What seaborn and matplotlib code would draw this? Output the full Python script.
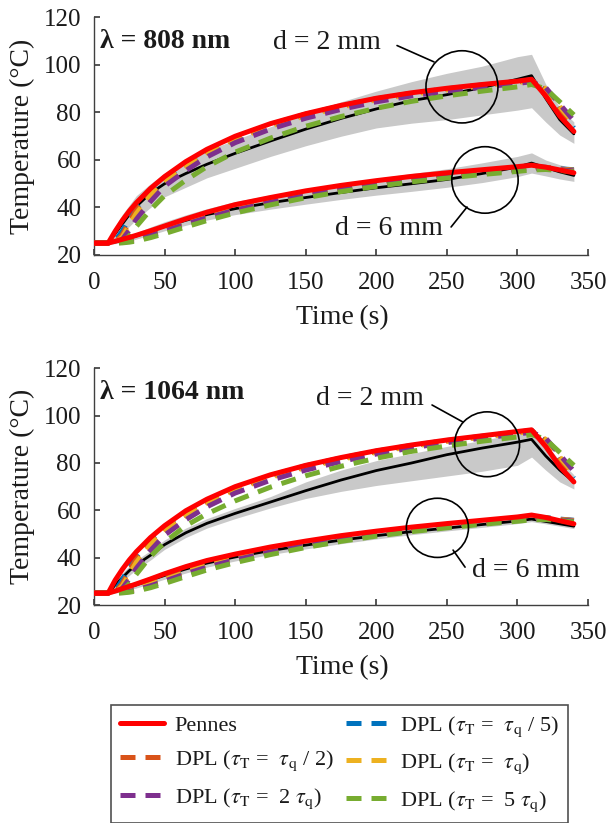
import matplotlib
matplotlib.use("Agg")
import matplotlib.pyplot as plt
from matplotlib.patches import Ellipse
from matplotlib.lines import Line2D
import seaborn as sns

# ---------------------------------------------------------------- data
time_s = [0, 10, 15, 20, 25, 30, 40, 50, 65, 80, 100, 125, 150, 175, 200,
          225, 250, 275, 300, 310, 320, 330, 340]

# lambda = 808 nm, d = 2 mm
w808_d2_pennes = [25, 25, 30, 34.5, 38.5, 42, 48, 53, 59.3, 64.5, 70, 75.3, 79.5, 83, 86,
                  88.3, 90.2, 91.8, 93.2, 94, 87, 78.5, 72]
w808_d2_exp = [25, 25, 29, 33, 37, 40.5, 46, 50, 54.3, 58.2, 62.8, 68, 73, 77.5, 81.5,
               85, 87.5, 90.5, 94, 95.5, 86, 77, 71]
w808_d2_exp_hi = [25.5, 25.5, 32, 37, 41, 45, 50, 54.5, 59.5, 64, 68.5, 74, 79.5, 84.5, 89,
                  93, 96.5, 99.5, 103.5, 104.5, 92, 82, 76]
w808_d2_exp_lo = [24.5, 24.5, 26, 29, 32, 35, 40, 44.5, 48.5, 52.5, 56.5, 61.5, 66, 70, 73.5,
                  75.5, 77, 79, 81, 82, 76, 70.5, 67]
w808_d2_dpl_q5 = [25, 25, 26, 30, 35.5, 40, 47, 52.5, 58.3, 63.8, 69.6, 75, 79.3, 82.8, 85.8,
                  88.1, 90, 91.6, 93, 93.8, 89, 80.5, 73.5]
w808_d2_dpl_q2 = [25, 25, 25.5, 28.5, 34, 39, 46.3, 52, 57.8, 63.4, 69.2, 74.7, 79, 82.5, 85.6,
                  87.9, 89.8, 91.4, 92.8, 93.6, 89.5, 81.5, 74.5]
w808_d2_dpl_1 = [25, 25, 25.2, 27.5, 32.5, 37.5, 45, 51, 57.1, 62.8, 68.7, 74.2, 78.6, 82.2, 85.3,
                 87.6, 89.5, 91.2, 92.6, 93.4, 90, 82.5, 75.5]
w808_d2_dpl_2 = [25, 25, 25, 26.5, 30.5, 35, 42.5, 49, 55.5, 61.3, 67.3, 73, 77.6, 81.3, 84.5,
                 87, 89, 90.7, 92.2, 93, 90.5, 83.5, 76.5]
w808_d2_dpl_5 = [25, 25, 25, 25.5, 28, 32, 39, 45, 51.5, 57.2, 63.3, 69.2, 74.2, 78.3, 81.8,
                 84.7, 87, 89, 90.8, 91.8, 90, 84.5, 79]

# lambda = 808 nm, d = 6 mm
w808_d6_pennes = [25, 25, 25.8, 26.6, 27.4, 28.3, 30.2, 32.2, 35.2, 38, 41.2, 44.2, 47, 49.3,
                  51.3, 53.1, 54.6, 55.9, 57.2, 57.8, 57, 55.8, 54.6]
w808_d6_exp = [25, 25, 25.5, 26, 27, 28, 30, 32, 34.6, 37, 39.5, 42, 44.2, 46.3, 48.3, 50,
               51.8, 54.3, 57, 58.7, 56.8, 55, 53.5]
w808_d6_exp_hi = [25.5, 25.5, 26.2, 27, 28.2, 29.4, 31.8, 34, 36.9, 39.5, 42.5, 45.3, 47.7, 50,
                  52.3, 54.3, 56.3, 58.8, 61.5, 63, 60, 58, 56.5]
w808_d6_exp_lo = [24.5, 24.5, 24.8, 25.2, 25.9, 26.7, 28.4, 30.2, 32.5, 34.7, 37, 39.3, 41.4,
                  43.4, 45.2, 46.8, 48.5, 50.5, 53, 54.5, 53.3, 52, 51]
w808_d6_dpl_q5 = [25, 25, 25.3, 25.9, 26.7, 27.6, 29.5, 31.4, 34.3, 37, 40.1, 43.4, 46.3, 48.8,
                  50.8, 52.6, 54.1, 55.4, 56.7, 57.3, 56.9, 56.3, 55.9]
w808_d6_dpl_q2 = [25, 25, 25.2, 25.7, 26.4, 27.3, 29.2, 31.1, 34, 36.7, 39.8, 43.1, 46, 48.5,
                  50.6, 52.4, 53.9, 55.2, 56.5, 57.1, 56.8, 56.2, 55.7]
w808_d6_dpl_1 = [25, 25, 25.1, 25.5, 26.1, 26.9, 28.8, 30.7, 33.6, 36.3, 39.5, 42.8, 45.7, 48.2,
                 50.3, 52.1, 53.6, 55, 56.3, 56.9, 56.7, 56.1, 55.6]
w808_d6_dpl_2 = [25, 25, 25, 25.3, 25.8, 26.5, 28.2, 30.1, 33, 35.7, 38.9, 42.2, 45.1, 47.7,
                 49.8, 51.7, 53.2, 54.6, 55.9, 56.5, 56.5, 56, 55.4]
w808_d6_dpl_5 = [25, 25, 25, 25.1, 25.4, 25.9, 27.3, 29, 31.8, 34.5, 37.7, 41.1, 44.1, 46.7,
                 48.9, 50.8, 52.4, 53.9, 55.2, 55.8, 56, 55.6, 55]

# lambda = 1064 nm, d = 2 mm
w1064_d2_pennes = [25, 25, 30.5, 35, 39, 42.5, 48.5, 53.5, 59.8, 64.7, 70, 75, 79, 82.3, 85.2,
                   87.6, 89.7, 91.5, 93.3, 94, 87, 78.5, 72]
w1064_d2_exp = [25, 25, 28.5, 31.5, 34.5, 37, 41, 45.5, 50.5, 54.5, 58.7, 63.5, 68.3, 72.8,
                76.8, 80, 83.5, 86.3, 88.8, 90, 83, 77, 72]
w1064_d2_exp_hi = [25.5, 25.5, 30, 33.5, 36.5, 39, 43, 47.5, 52.5, 56.5, 60.8, 65.8, 72, 77,
                   81, 84, 87, 89.5, 92.5, 95, 88, 81, 75]
w1064_d2_exp_lo = [24.5, 24.5, 27, 30, 32.5, 35, 39, 43.5, 48.5, 52.5, 56.5, 61, 65, 68, 70.5,
                   72.5, 74.5, 76.5, 79, 82.5, 77, 72, 69]
w1064_d2_dpl_q5 = [25, 25, 26, 30.5, 36, 40.5, 47.5, 53, 58.8, 64, 69.6, 74.7, 78.8, 82.1, 85,
                   87.4, 89.5, 91.3, 93, 93.8, 89, 80.5, 73.5]
w1064_d2_dpl_q2 = [25, 25, 25.5, 29, 34.5, 39.5, 46.8, 52.5, 58.3, 63.6, 69.2, 74.4, 78.5, 81.8,
                   84.8, 87.2, 89.3, 91.1, 92.8, 93.6, 89.5, 81.5, 74.5]
w1064_d2_dpl_1 = [25, 25, 25.2, 28, 33, 38, 45.5, 51.5, 57.6, 63, 68.7, 73.9, 78.1, 81.5, 84.5,
                  87, 89.1, 90.9, 92.6, 93.4, 90, 82.5, 75.5]
w1064_d2_dpl_2 = [25, 25, 25, 27, 31, 35.5, 43, 49.5, 56, 61.5, 67.3, 72.7, 77, 80.6, 83.8,
                  86.4, 88.6, 90.5, 92.2, 93, 90.5, 83.5, 76.5]
w1064_d2_dpl_5 = [25, 25, 25, 25.8, 29, 33, 40.5, 46.5, 53.5, 58.5, 64, 69.8, 74.6, 78.6, 82,
                  84.9, 87.2, 89.2, 91, 92, 90, 84.5, 79]

# lambda = 1064 nm, d = 6 mm
w1064_d6_pennes = [25, 25, 25.9, 26.9, 27.9, 28.9, 31, 33.2, 36.2, 38.8, 41.5, 44.5, 47, 49.3,
                   51.2, 52.9, 54.4, 55.8, 57.2, 58, 57, 55.6, 54.3]
w1064_d6_exp = [25, 25, 25.7, 26.5, 27.5, 28.5, 30.5, 32.5, 35.2, 37.7, 40.3, 43, 45.3, 47.4,
                49.3, 51, 52.5, 54, 55.5, 56.3, 55.3, 54.3, 53.3]
w1064_d6_exp_hi = [25.5, 25.5, 26.6, 27.6, 28.8, 30, 32.2, 34.3, 37.2, 39.7, 42.2, 44.7, 46.8,
                   48.7, 50.5, 52.1, 53.6, 55, 56.5, 57.3, 56.3, 55.3, 54.3]
w1064_d6_exp_lo = [24.5, 24.5, 25, 25.6, 26.4, 27.2, 29, 30.9, 33.5, 36, 38.6, 41.3, 43.7, 45.9,
                   47.9, 49.7, 51.3, 52.8, 54.4, 55.2, 54.3, 53.3, 52.3]
w1064_d6_dpl_q5 = [25, 25, 25.3, 25.9, 26.6, 27.5, 29.4, 31.4, 34.5, 37.3, 40.3, 43.5, 46.2,
                   48.6, 50.6, 52.4, 54, 55.4, 56.7, 57.3, 56.9, 56.3, 55.8]
w1064_d6_dpl_q2 = [25, 25, 25.2, 25.7, 26.3, 27.2, 29.1, 31.1, 34.2, 37, 40, 43.2, 46, 48.4,
                   50.4, 52.2, 53.8, 55.2, 56.5, 57.1, 56.8, 56.2, 55.7]
w1064_d6_dpl_1 = [25, 25, 25.1, 25.5, 26, 26.8, 28.7, 30.7, 33.8, 36.6, 39.6, 42.9, 45.7, 48.1,
                  50.2, 52, 53.6, 55, 56.3, 57, 56.7, 56.1, 55.6]
w1064_d6_dpl_2 = [25, 25, 25, 25.3, 25.7, 26.4, 28.1, 30.1, 33.2, 36, 39.1, 42.4, 45.2, 47.7,
                  49.8, 51.6, 53.2, 54.7, 56, 56.6, 56.5, 56, 55.4]
w1064_d6_dpl_5 = [25, 25, 25, 25.1, 25.4, 25.9, 27.3, 29.1, 32, 34.8, 37.9, 41.3, 44.3, 46.9,
                  49.1, 51, 52.6, 54.1, 55.4, 56, 56.1, 55.7, 55.1]

model_labels = [
    "Pennes",
    r"DPL ($\tau_{\rm T}$ =  $\tau_{\rm q}$ / 5)",
    r"DPL ($\tau_{\rm T}$ =  $\tau_{\rm q}$ / 2)",
    r"DPL ($\tau_{\rm T}$ =  $\tau_{\rm q}$)",
    r"DPL ($\tau_{\rm T}$ =  2 $\tau_{\rm q}$)",
    r"DPL ($\tau_{\rm T}$ =  5 $\tau_{\rm q}$)",
]
model_colors = ["#FF0000", "#0072BD", "#D95319", "#EDB120", "#7E2F8E", "#77AC30"]

# ---------------------------------------------------------------- style
sns.set_theme(style="ticks")
plt.rcParams.update({
    "font.family": ["Liberation Serif", "DejaVu Serif"],
    "mathtext.fontset": "stix",
    "axes.edgecolor": "#404040",
    "axes.linewidth": 1.0,
    "xtick.color": "#404040",
    "ytick.color": "#404040",
    "xtick.labelcolor": "#1a1a1a",
    "ytick.labelcolor": "#1a1a1a",
    "xtick.direction": "in",
    "ytick.direction": "in",
    "xtick.major.size": 4,
    "ytick.major.size": 4,
    "xtick.labelsize": 18,
    "ytick.labelsize": 18,
    "axes.labelsize": 20,
    "text.color": "#1a1a1a",
    "axes.labelcolor": "#1a1a1a",
})

LW = 3.6
DASH = (0, (3.0, 2.0))

fig = plt.figure(figsize=(6.09, 8.23), dpi=100)
ax_top = fig.add_axes([0.15435, 0.69016, 0.81117, 0.28858])
ax_bot = fig.add_axes([0.15435, 0.26488, 0.81117, 0.28761])


def draw_depth(ax, exp, lo, hi, pennes, dpls):
    ax.fill_between(time_s, lo, hi, color="#c9c9c9", lw=0, zorder=1)
    sns.lineplot(x=time_s, y=exp, ax=ax, color="black", lw=2.0, sort=False,
                 errorbar=None, zorder=2)
    for vals, col in zip(dpls, model_colors[1:]):
        sns.lineplot(x=time_s, y=vals, ax=ax, color=col, lw=LW, linestyle=DASH,
                     sort=False, errorbar=None, zorder=3)
    sns.lineplot(x=time_s, y=pennes, ax=ax, color=model_colors[0], lw=LW,
                 sort=False, errorbar=None, zorder=4)


draw_depth(ax_top, w808_d2_exp, w808_d2_exp_lo, w808_d2_exp_hi, w808_d2_pennes,
           [w808_d2_dpl_q5, w808_d2_dpl_q2, w808_d2_dpl_1, w808_d2_dpl_2, w808_d2_dpl_5])
draw_depth(ax_top, w808_d6_exp, w808_d6_exp_lo, w808_d6_exp_hi, w808_d6_pennes,
           [w808_d6_dpl_q5, w808_d6_dpl_q2, w808_d6_dpl_1, w808_d6_dpl_2, w808_d6_dpl_5])
draw_depth(ax_bot, w1064_d2_exp, w1064_d2_exp_lo, w1064_d2_exp_hi, w1064_d2_pennes,
           [w1064_d2_dpl_q5, w1064_d2_dpl_q2, w1064_d2_dpl_1, w1064_d2_dpl_2, w1064_d2_dpl_5])
draw_depth(ax_bot, w1064_d6_exp, w1064_d6_exp_lo, w1064_d6_exp_hi, w1064_d6_pennes,
           [w1064_d6_dpl_q5, w1064_d6_dpl_q2, w1064_d6_dpl_1, w1064_d6_dpl_2, w1064_d6_dpl_5])


def callout(ax, text, centre, rx, ry, seg, text_xy):
    ax.add_patch(Ellipse(centre, 2 * rx, 2 * ry, fill=False, ec="black", lw=1.2, zorder=6))
    ax.plot([seg[0][0], seg[1][0]], [seg[0][1], seg[1][1]], color="black", lw=1.2, zorder=6)
    ax.text(text_xy[0], text_xy[1], text, fontsize=20, ha="center", va="center", zorder=7)


callout(ax_top, "d = 2 mm", (260.7, 90.8), 25.5, 15.2,
        ((214.7, 108.2), (240.9, 101.3)), (165, 109.3))
callout(ax_top, "d = 6 mm", (277, 51.6), 23.5, 14.0,
        ((253, 31.8), (264.3, 40.2)), (209, 31.0))
callout(ax_bot, "d = 2 mm", (278.5, 87.9), 23.0, 13.7,
        ((239.5, 104.5), (261.4, 97.3)), (195.5, 107.4))
callout(ax_bot, "d = 6 mm", (243.3, 52.6), 22.0, 12.5,
        ((254.4, 43.2), (262.9, 36.0)), (306, 34.7))

for ax, title in ((ax_top, "λ = 808 nm"), (ax_bot, "λ = 1064 nm")):
    ax.set_xlim(0, 350)
    ax.set_ylim(20, 120)
    ax.set_xticks(range(0, 351, 50))
    ax.set_yticks(range(20, 121, 20))
    ax.tick_params(axis="x", pad=12)
    ax.tick_params(axis="y", pad=9)
    sns.despine(ax=ax)
    ax.set_xlabel("Time\u2009(s)")
    ax.set_ylabel("Temperature (°C)")
    ax.xaxis.set_label_coords(0.502, -0.265)
    ax.xaxis.label.set_va("center")
    ax.yaxis.set_label_coords(-0.144, 0.5)
    ax.yaxis.label.set_va("center")
    ax.text(0.012, 0.897, title, transform=ax.transAxes, fontsize=20,
            fontweight="bold", ha="left", va="center")

handles = [Line2D([], [], color=model_colors[0], lw=LW)] + [
    Line2D([], [], color=c, lw=LW, linestyle=DASH) for c in model_colors[1:]]
order = [0, 2, 4, 1, 3, 5]
leg = fig.legend([handles[i] for i in order], [model_labels[i] for i in order],
                 ncol=2, loc="upper left", bbox_to_anchor=(0.1823, 0.1434),
                 fontsize=16, frameon=True, fancybox=False, edgecolor="#505050",
                 framealpha=1, handlelength=1.95, handletextpad=0.5, columnspacing=0.55,
                 labelspacing=0.58, borderpad=0.42, borderaxespad=0)
leg.get_frame().set_linewidth(1.2)

fig.savefig("out.png", dpi=100)
